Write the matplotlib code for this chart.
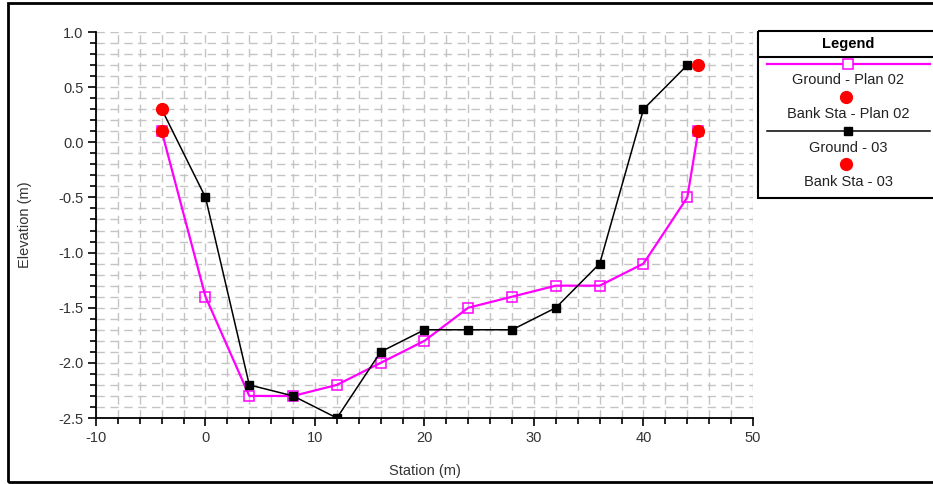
import matplotlib
matplotlib.use("Agg")
import matplotlib.pyplot as plt
from matplotlib.ticker import MultipleLocator
from matplotlib.patches import Rectangle

plt.rcParams['font.family'] = ['Liberation Sans', 'DejaVu Sans']
plt.rcParams['axes.unicode_minus'] = False

# Data
station_plan02 = [-4, 0, 4, 8, 12, 16, 20, 24, 28, 32, 36, 40, 44, 45]
ground_plan02 = [0.1, -1.4, -2.3, -2.3, -2.2, -2.0, -1.8, -1.5, -1.4, -1.3, -1.3, -1.1, -0.5, 0.1]
bank_sta_plan02_x = [-4, 45]
bank_sta_plan02_y = [0.1, 0.1]

station_03 = [-4, 0, 4, 8, 12, 16, 20, 24, 28, 32, 36, 40, 44]
ground_03 = [0.3, -0.5, -2.2, -2.3, -2.5, -1.9, -1.7, -1.7, -1.7, -1.5, -1.1, 0.3, 0.7]
bank_sta_03_x = [-4, 45]
bank_sta_03_y = [0.3, 0.7]

legend_labels = ["Ground - Plan 02", "Bank Sta - Plan 02", "Ground - 03", "Bank Sta - 03"]

W, H = 933, 484
fig = plt.figure(figsize=(W / 100, H / 100), dpi=100)

# outer border
fig.patches.append(Rectangle((8 / W, 1 - 482 / H), (940 - 8) / W, (482 - 3) / H,
                             transform=fig.transFigure, fill=False, edgecolor='black',
                             linewidth=2, clip_on=False))

ax = fig.add_axes([96 / W, (H - 418) / H, (753 - 96) / W, (418 - 32) / H])
ax.set_xlim(-10, 50)
ax.set_ylim(-2.5, 1.0)
ax.xaxis.set_major_locator(MultipleLocator(10))
ax.xaxis.set_minor_locator(MultipleLocator(2))
ax.yaxis.set_major_locator(MultipleLocator(0.5))
ax.yaxis.set_minor_locator(MultipleLocator(0.1))
ax.yaxis.set_major_formatter(matplotlib.ticker.FormatStrFormatter('%.1f'))
ax.grid(True, which='both', color='#c4c4c4', linestyle=(0, (6, 4)), linewidth=1)
ax.set_axisbelow(True)
for s in ['top', 'right']:
    ax.spines[s].set_visible(False)
for s in ['left', 'bottom']:
    ax.spines[s].set_linewidth(1.3)
ax.tick_params(which='major', direction='out', length=6, width=1.2, labelsize=10.5,
               labelcolor='#333333', pad=3)
ax.tick_params(which='minor', direction='out', length=4, width=1.2)

ax.plot(station_plan02, ground_plan02, color='#ff00ff', linewidth=1.6, marker='s',
        markersize=6.5, markerfacecolor='none', markeredgecolor='#ff00ff', markeredgewidth=1.1, zorder=3)
ax.plot(station_03, ground_03, color='black', linewidth=1.1, marker='s',
        markersize=6, markerfacecolor='black', zorder=4)
ax.plot(bank_sta_plan02_x, bank_sta_plan02_y, linestyle='none', marker='o', markersize=8.5,
        color='#ff0000', zorder=5, clip_on=False)
ax.plot(bank_sta_03_x, bank_sta_03_y, linestyle='none', marker='o', markersize=8.5,
        color='#ff0000', zorder=5, clip_on=False)

ax.set_xlabel('Station (m)', fontsize=10.5, labelpad=14, color='#333333')
ax.set_ylabel('Elevation (m)', fontsize=10.5, labelpad=19, color='#333333')

# Legend (custom)
lax = fig.add_axes([758 / W, (H - 198) / H, (945 - 758) / W, (198 - 31) / H])
lax.set_xlim(758, 945)
lax.set_ylim(198, 31)
lax.axis('off')
lax.add_patch(Rectangle((758, 31), 190, 167, fill=False, edgecolor='black', linewidth=1.5, clip_on=False))
lax.plot([758, 945], [57, 57], color='black', linewidth=1.5)
lax.text(848, 44, 'Legend', ha='center', va='center', fontsize=10.5, fontweight='bold')
lax.plot([767, 930], [64, 64], color='#ff00ff', linewidth=1.6)
lax.plot([848], [64], marker='s', markersize=6.5, markerfacecolor='white', markeredgecolor='#ff00ff', markeredgewidth=1.1)
lax.text(848, 80, legend_labels[0], ha='center', va='center', fontsize=10.5, color='#222222')
lax.plot([846], [97], marker='o', markersize=8.5, color='#ff0000')
lax.text(848, 114, legend_labels[1], ha='center', va='center', fontsize=10.5, color='#222222')
lax.plot([767, 930], [131, 131], color='black', linewidth=1.1)
lax.plot([848], [131], marker='s', markersize=6, color='black')
lax.text(848, 148, legend_labels[2], ha='center', va='center', fontsize=10.5, color='#222222')
lax.plot([846], [164], marker='o', markersize=8.5, color='#ff0000')
lax.text(848, 182, legend_labels[3], ha='center', va='center', fontsize=10.5, color='#222222')

fig.savefig('out.png', dpi=100)
